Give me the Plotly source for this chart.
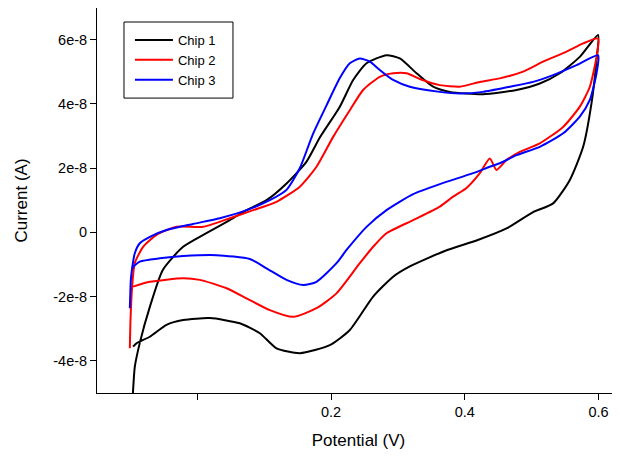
import plotly.graph_objects as go

# potential (V) and current (units of 1e-8 A), forward scan then reverse scan
chip1_v = [-0.100, -0.0964, -0.0935, -0.086, -0.071, -0.0516, -0.0217, 0.0142, 0.0486,
           0.0736, 0.1035, 0.1334, 0.1633, 0.1832, 0.2131, 0.233, 0.253, 0.2829, 0.3028,
           0.3278, 0.3526, 0.3775, 0.4273, 0.4773, 0.5121, 0.542, 0.5719, 0.5993,
           0.5969, 0.5894, 0.5769, 0.557, 0.532, 0.5021, 0.4623, 0.4194, 0.370,
           0.3177, 0.2928, 0.2629, 0.228, 0.1981, 0.1533, 0.1184, 0.0935, 0.0635,
           0.0187, -0.0212, -0.0461, -0.071, -0.0909, -0.096]
chip1_i = [-6.0, -5.02, -4.19, -3.44, -2.32, -1.17, -0.46, -0.02, 0.38,
           0.69, 1.00, 1.52, 2.20, 2.95, 3.91, 4.74, 5.26, 5.51, 5.41,
           4.95, 4.53, 4.37, 4.30, 4.43, 4.63, 4.95, 5.46, 6.14,
           5.36, 4.02, 2.66, 1.63, 0.90, 0.63, 0.12, -0.24, -0.58,
           -1.06, -1.38, -2.00, -3.04, -3.51, -3.76, -3.61, -3.14, -2.83,
           -2.67, -2.73, -2.88, -3.25, -3.45, -3.56]

chip2_v = [-0.1009, -0.0999, -0.0975, -0.0935, -0.081, -0.061, -0.0311, 0.0087, 0.0486,
           0.0834, 0.1184, 0.1533, 0.1782, 0.2031, 0.228, 0.2479, 0.2729, 0.2928, 0.3128,
           0.3327, 0.3626, 0.3925, 0.4224, 0.4523, 0.4871, 0.517, 0.552, 0.5769, 0.5993,
           0.5969, 0.5869, 0.5719, 0.547, 0.5121, 0.4822, 0.4623, 0.4474, 0.4373, 0.4224,
           0.4025, 0.3825, 0.3626, 0.3227, 0.2829, 0.2629, 0.243, 0.2081, 0.1782, 0.1432,
           0.1084, 0.0785, 0.0437, 0.0037, -0.0212, -0.071, -0.096]
chip2_i = [-3.61, -2.73, -1.69, -0.96, -0.45, -0.08, 0.17, 0.17, 0.44,
           0.69, 0.95, 1.42, 2.04, 2.97, 3.80, 4.43, 4.84, 4.95, 4.95,
           4.77, 4.58, 4.53, 4.68, 4.79, 5.00, 5.31, 5.62, 5.88, 6.03,
           5.46, 4.53, 3.91, 3.28, 2.77, 2.50, 2.25, 1.94, 2.30, 1.84,
           1.38, 1.11, 0.80, 0.38, -0.03, -0.45, -0.96, -1.90, -2.36, -2.63,
           -2.42, -2.11, -1.74, -1.48, -1.43, -1.54, -1.69]

chip3_v = [-0.1009, -0.0994, -0.0975, -0.0935, -0.086, -0.071, -0.0461, -0.0063, 0.0336,
           0.0736, 0.1084, 0.1334, 0.1533, 0.1727, 0.1932, 0.2131, 0.228, 0.243, 0.2579,
           0.2729, 0.2928, 0.3177, 0.3626, 0.3925, 0.4273, 0.4673, 0.5021, 0.532, 0.567,
           0.5993,
           0.5969, 0.5869, 0.5719, 0.547, 0.5121, 0.4773, 0.4523, 0.4373, 0.4124, 0.3625,
           0.3227, 0.2829, 0.253, 0.2231, 0.2081, 0.1782, 0.1582, 0.1334, 0.1035, 0.0785,
           0.0287, -0.0212, -0.0561, -0.086, -0.0984]
chip3_i = [-2.36, -1.48, -1.12, -0.65, -0.34, -0.14, 0.07, 0.26, 0.44,
           0.69, 1.00, 1.32, 2.00, 3.05, 3.95, 4.80, 5.26, 5.41, 5.31,
           5.05, 4.74, 4.53, 4.37, 4.32, 4.37, 4.53, 4.68, 4.89, 5.20,
           5.51,
           4.95, 4.12, 3.60, 3.08, 2.66, 2.40, 2.15, 2.04, 1.84, 1.50,
           1.19, 0.69, 0.17, -0.55, -0.96, -1.54, -1.64, -1.48, -1.12, -0.83,
           -0.71, -0.74, -0.81, -0.91, -1.12]

x_ticks = [0.0, 0.2, 0.4, 0.6]
x_labels = ["", "0.2", "0.4", "0.6"]
y_ticks = [-4e-8, -2e-8, 0, 2e-8, 4e-8, 6e-8]
y_labels = ["-4e-8", "-2e-8", "0", "2e-8", "4e-8", "6e-8"]

FONT = "Liberation Sans, Arial, sans-serif"

fig = go.Figure()
for name, v, i, color in [
    ("Chip 1", chip1_v, chip1_i, "black"),
    ("Chip 2", chip2_v, chip2_i, "red"),
    ("Chip 3", chip3_v, chip3_i, "blue"),
]:
    fig.add_trace(go.Scatter(
        x=v, y=[k * 1e-8 for k in i], mode="lines", name=name,
        line=dict(color=color, width=2, shape="spline", smoothing=0.6),
    ))

# the page body has an 8px margin, so the figure is 8px smaller than the window
fig.update_layout(
    width=612, height=449,
    margin=dict(l=89, r=0, t=0, b=64, autoexpand=False),
    paper_bgcolor="white", plot_bgcolor="white",
    font=dict(family=FONT, size=14.5, color="black"),
    showlegend=True,
    legend=dict(
        x=0.063, y=0.956, xanchor="left", yanchor="top",
        borderwidth=0, bgcolor="rgba(0,0,0,0)",
        font=dict(size=13), tracegroupgap=0, itemwidth=38,
    ),
)
# legend frame
fig.add_shape(type="rect", xref="paper", yref="paper",
              x0=0.0516, x1=0.260, y0=0.766, y1=0.9636,
              line=dict(color="black", width=1), fillcolor="rgba(0,0,0,0)")

fig.update_xaxes(
    range=[-0.15, 0.632], showgrid=False, zeroline=False, automargin=False,
    showline=True, linecolor="black", linewidth=1, mirror=True,
    ticks="outside", ticklen=6, tickcolor="black",
    tickvals=x_ticks, ticktext=x_labels,
    title=dict(text="Potential (V)", font=dict(size=17), standoff=14),
)
fig.update_yaxes(
    range=[-5.0e-8, 6.98e-8], showgrid=False, zeroline=False, automargin=False,
    showline=True, linecolor="black", linewidth=1,
    ticks="outside", ticklen=6, tickcolor="black",
    tickvals=y_ticks, ticktext=y_labels,
    title=dict(text="Current (A)", font=dict(size=17), standoff=21),
)

fig.write_html("out.html")
